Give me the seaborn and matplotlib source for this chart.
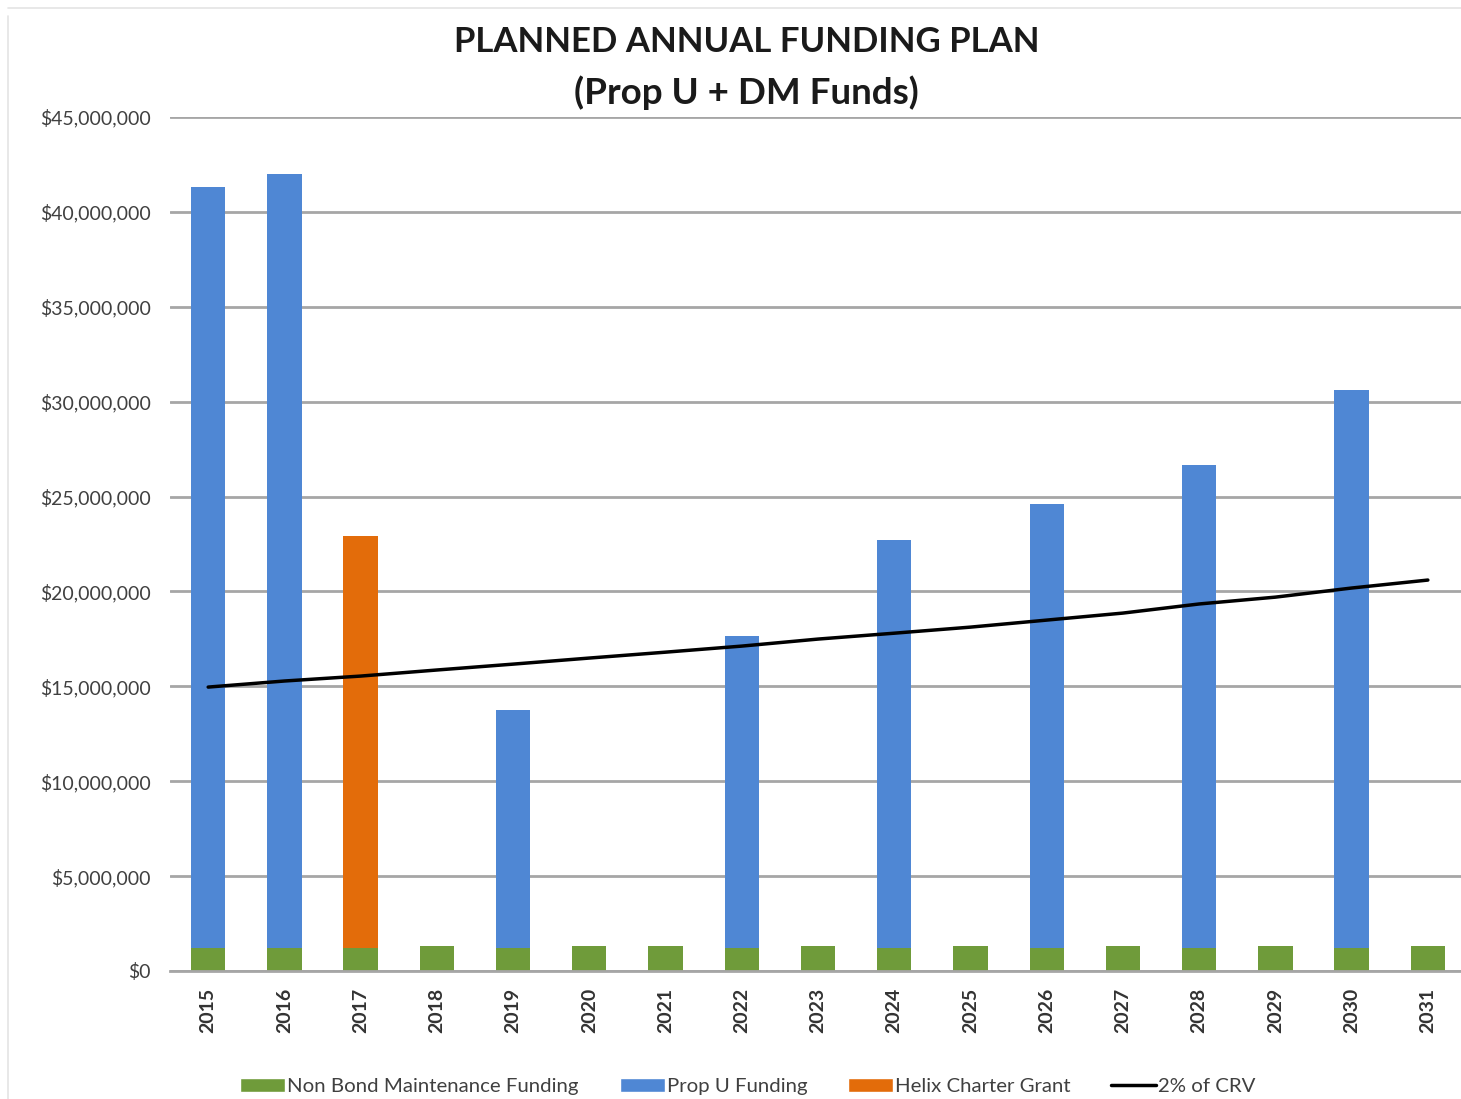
import numpy as np
import pandas as pd
import matplotlib
matplotlib.use("Agg")
import matplotlib.pyplot as plt
import seaborn as sns
from matplotlib.patches import Patch
from matplotlib.lines import Line2D
from matplotlib.ticker import FuncFormatter, MultipleLocator


# ----------------------------
# Data
# ----------------------------

years = [str(y) for y in range(2015, 2032)]

non_bond = [1.2, 1.2, 1.2, 1.3, 1.2, 1.3, 1.3, 1.2, 1.3,
            1.2, 1.3, 1.2, 1.3, 1.2, 1.3, 1.2, 1.3]

prop_u = [40.1, 40.8, 0.0, 0.0, 12.55, 0.0, 0.0, 16.45, 0.0,
          21.5, 0.0, 23.4, 0.0, 25.45, 0.0, 29.4, 0.0]

helix = [0.0, 0.0, 21.7, 0.0, 0.0, 0.0, 0.0, 0.0, 0.0,
         0.0, 0.0, 0.0, 0.0, 0.0, 0.0, 0.0, 0.0]

crv_2pct = [14.96, 15.28, 15.54, 15.86, 16.17, 16.49, 16.80, 17.12, 17.49,
            17.80, 18.12, 18.49, 18.86, 19.34, 19.70, 20.18, 20.60]

df = pd.DataFrame({
    "Year": years,
    "NonBond": np.array(non_bond) * 1e6,
    "PropU": np.array(prop_u) * 1e6,
    "Helix": np.array(helix) * 1e6,
    "CRV": np.array(crv_2pct) * 1e6,
})

GREEN = "#6f9b3a"
BLUE = "#4f87d4"
ORANGE = "#e36c0a"
GRID = "#a6a6a6"
TEXT = "#404040"

sns.set_theme(style="white")
plt.rcParams["font.family"] = ["Lato", "DejaVu Sans"]

fig = plt.figure(figsize=(14.61, 10.99), dpi=100)
ax = fig.add_axes([0.1164, 0.1165, 0.887, 0.777])

# ----------------------------
# Stacked bars
# ----------------------------

bar_kw = dict(width=0.45, saturation=1, linewidth=0, ax=ax, zorder=3)

sns.barplot(data=df, x="Year", y="NonBond", color=GREEN, **bar_kw)

sns.barplot(data=df, x="Year", y="PropU", color=BLUE,
            bottom=df["NonBond"], **bar_kw)

sns.barplot(data=df, x="Year", y="Helix", color=ORANGE,
            bottom=df["NonBond"] + df["PropU"], **bar_kw)

# ----------------------------
# 2% of CRV line
# ----------------------------

sns.lineplot(x=np.arange(len(years)), y=df["CRV"], color="black",
             linewidth=2.5, ax=ax, zorder=4)

# ----------------------------
# Axes styling
# ----------------------------

ax.set_xlim(-0.5, len(years) - 0.5)
ax.set_ylim(0, 45e6)
ax.yaxis.set_major_locator(MultipleLocator(5e6))
ax.yaxis.set_major_formatter(
    FuncFormatter(lambda v, p: "$0" if v == 0 else f"${v:,.0f}")
)

ax.grid(axis="y", color=GRID, linewidth=2, zorder=0)
ax.grid(axis="x", visible=False)
for side in ["top", "right", "left"]:
    ax.spines[side].set_visible(False)
ax.spines["bottom"].set_color(GRID)
ax.spines["bottom"].set_linewidth(2)
ax.spines["bottom"].set_zorder(5)

ax.set_xlabel("")
ax.set_ylabel("")
ax.tick_params(axis="both", length=0)
ax.tick_params(axis="y", labelsize=14, labelcolor=TEXT, pad=14)
ax.tick_params(axis="x", labelsize=14, labelcolor="#333333", pad=12)
for lab in ax.get_xticklabels():
    lab.set_rotation(90)
    lab.set_fontweight("bold")

fig.text(0.511, 0.962, "PLANNED ANNUAL FUNDING PLAN",
         ha="center", va="center", fontsize=25, fontweight="bold",
         color="#1a1a1a")
fig.text(0.511, 0.916, "(Prop U + DM Funds)",
         ha="center", va="center", fontsize=26.5, fontweight="bold",
         color="#1a1a1a")

# faint chart border (left and top)
fig.add_artist(Line2D([0.0055, 0.0055], [0.0, 0.985], transform=fig.transFigure,
                      color="#e4e4e4", linewidth=1.2))
fig.add_artist(Line2D([0.0055, 1.0], [0.9925, 0.9925], transform=fig.transFigure,
                      color="#e4e4e4", linewidth=1.2))

# ----------------------------
# Legend
# ----------------------------

handles = [
    Patch(facecolor=GREEN, label="Non Bond Maintenance Funding"),
    Patch(facecolor=BLUE, label="Prop U Funding"),
    Patch(facecolor=ORANGE, label="Helix Charter Grant"),
    Line2D([0], [0], color="black", linewidth=2.5, label="2% of CRV"),
]

fig.legend(handles=handles, loc="lower center", ncol=4,
           bbox_to_anchor=(0.512, -0.013), frameon=False,
           fontsize=14.7, labelcolor=TEXT, handlelength=2.2,
           handleheight=0.7, handletextpad=0.1, columnspacing=2.0)

plt.savefig("out.png", dpi=100)
plt.close()
